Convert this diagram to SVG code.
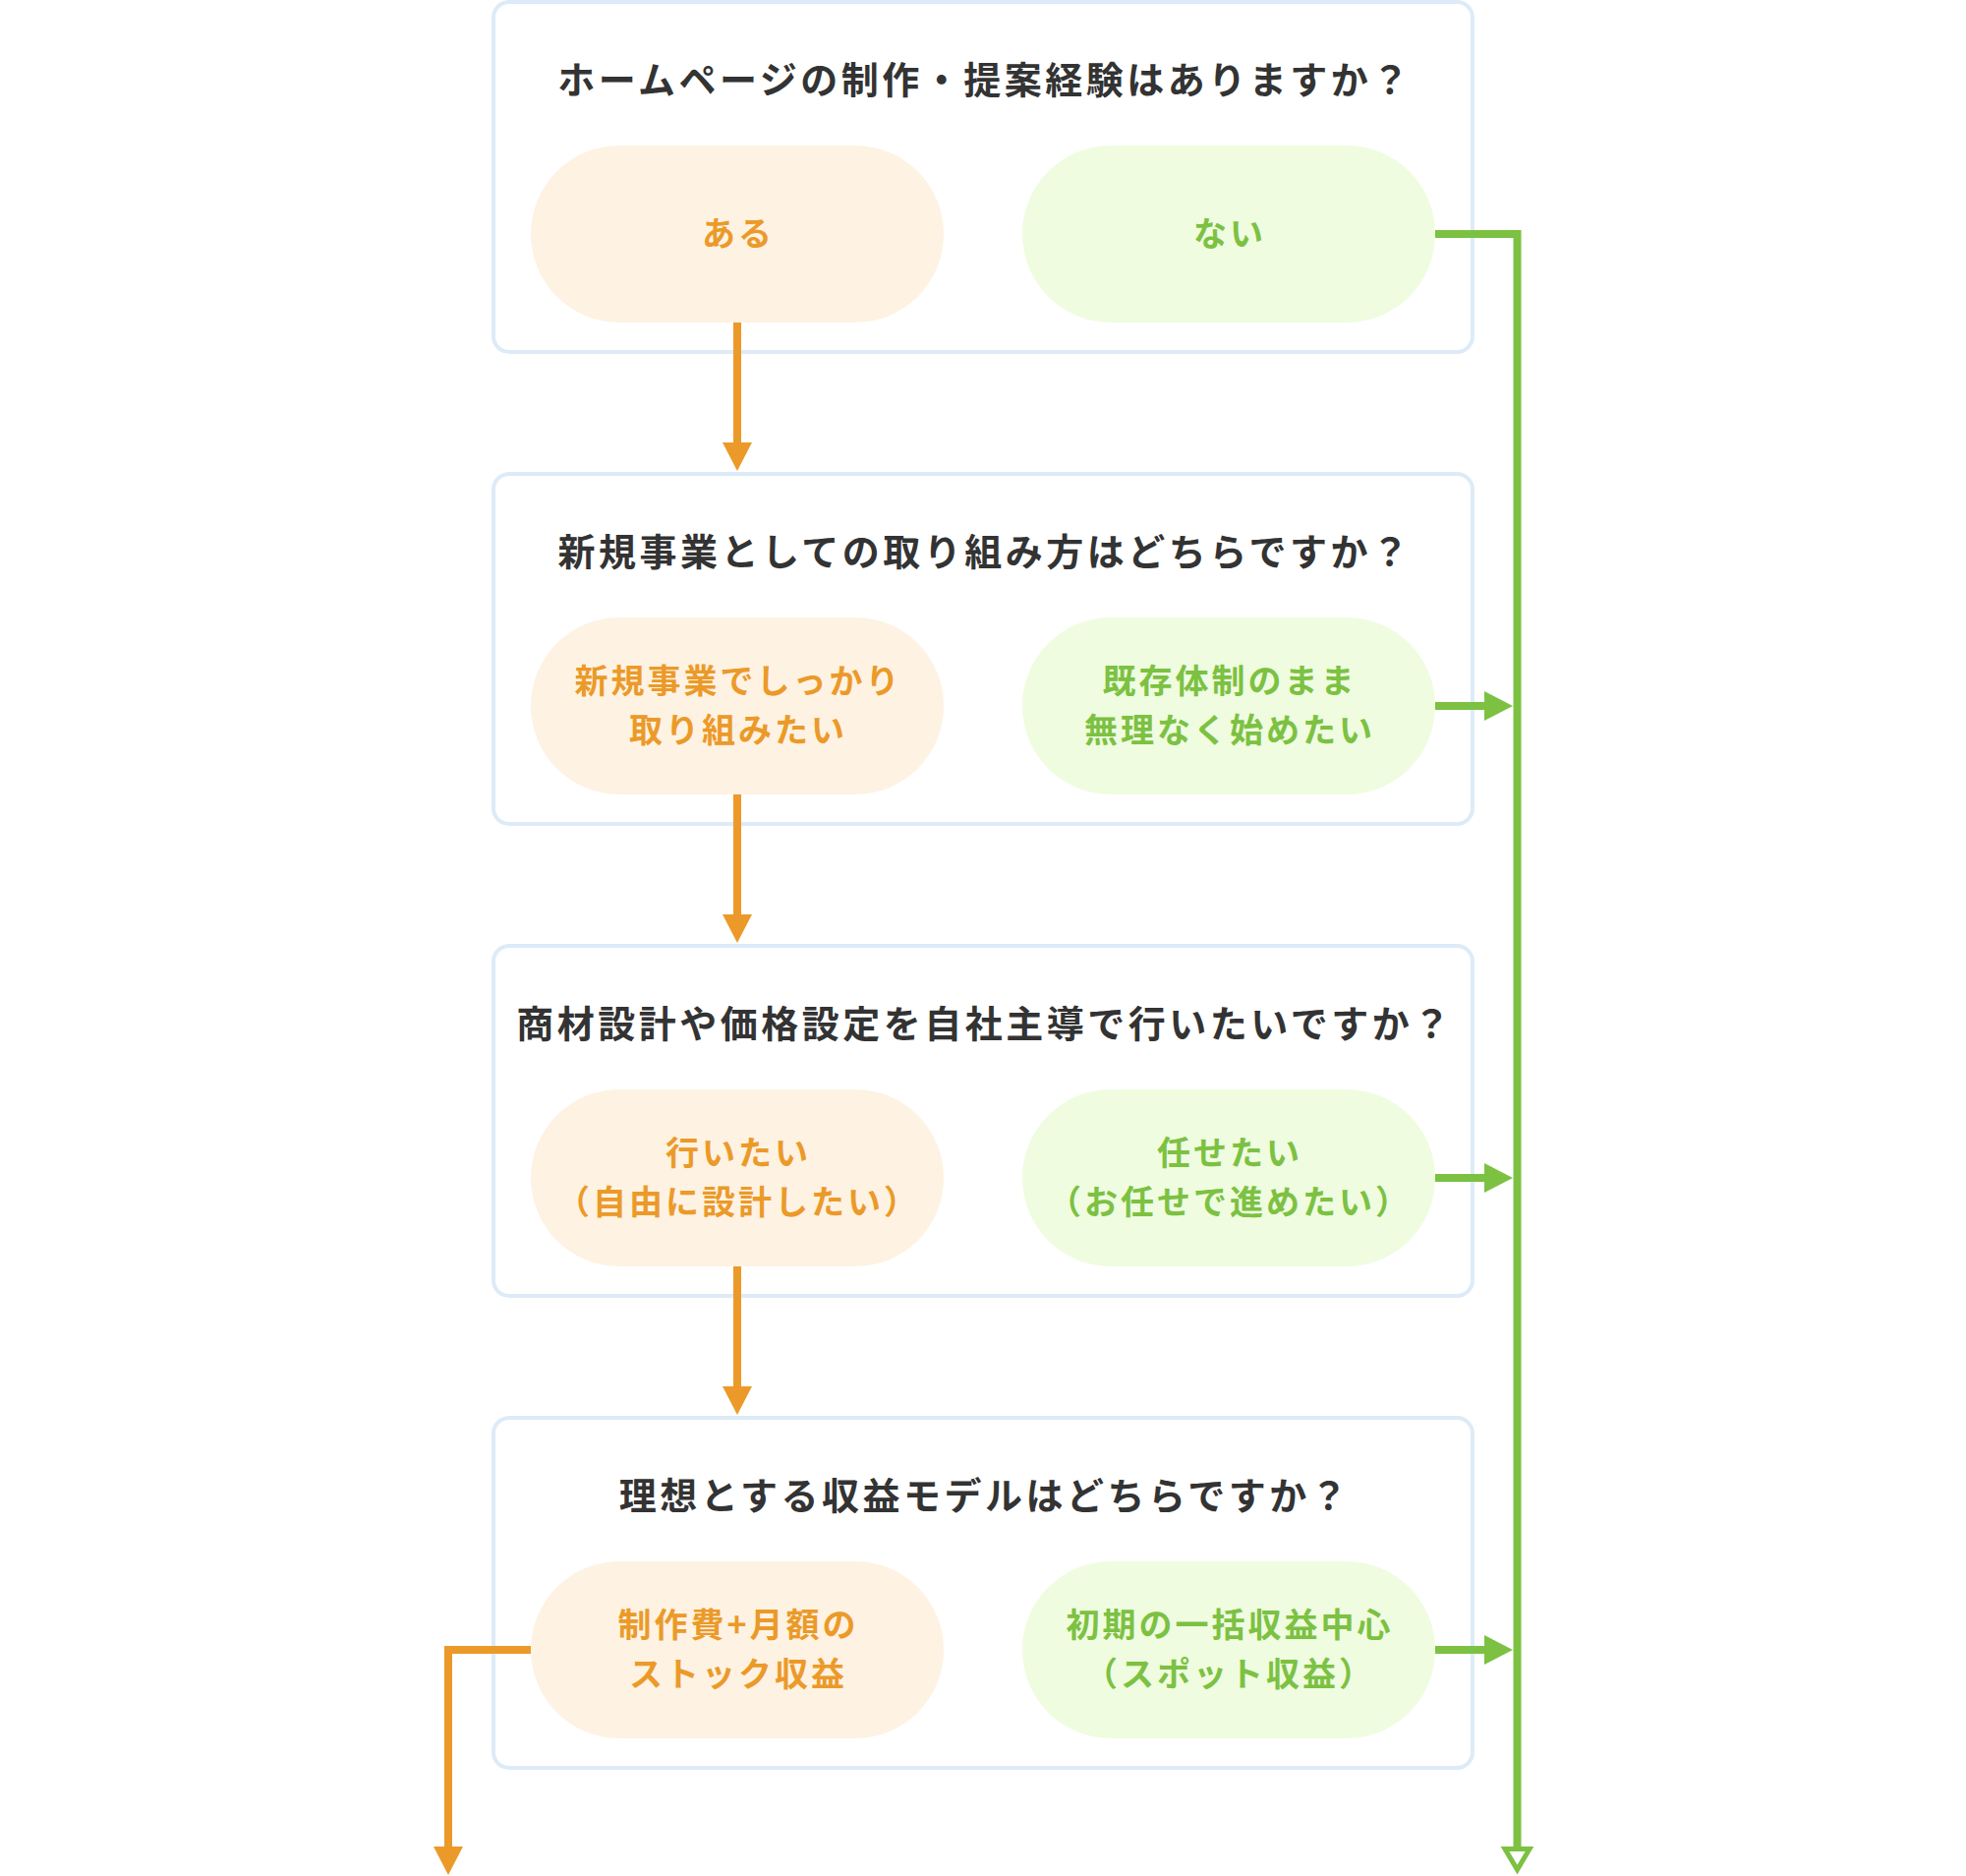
<svg xmlns="http://www.w3.org/2000/svg" width="2000" height="1908" viewBox="0 0 2000 1908">
<style>
.box{fill:#ffffff;stroke:#dcebf7;stroke-width:4}
.po{fill:#fef2e3}
.pg{fill:#effce0}
.q{font-family:"Noto Sans CJK JP","Noto Sans",sans-serif;font-weight:700;font-size:38px;fill:#333333;letter-spacing:3.5px;text-anchor:middle}
.to{font-family:"Noto Sans CJK JP","Noto Sans",sans-serif;font-weight:700;font-size:34px;fill:#eb9a29;letter-spacing:3px;text-anchor:middle}
.tg{font-family:"Noto Sans CJK JP","Noto Sans",sans-serif;font-weight:700;font-size:34px;fill:#7cc142;letter-spacing:3px;text-anchor:middle}
.lo{fill:none;stroke:#eb9a29;stroke-width:8;stroke-linejoin:miter}
.lg{fill:none;stroke:#7cc142;stroke-width:8;stroke-linejoin:miter}
</style>
<defs>
<marker id="ao" markerUnits="userSpaceOnUse" markerWidth="32" markerHeight="32" refX="0" refY="15" orient="auto" overflow="visible">
<path d="M0,0 L29,15 L0,30 Z" fill="#eb9a29"/>
</marker>
<marker id="ag" markerUnits="userSpaceOnUse" markerWidth="32" markerHeight="32" refX="0" refY="15" orient="auto" overflow="visible">
<path d="M0,0 L29,15 L0,30 Z" fill="#7cc142"/>
</marker>
<marker id="agh" markerUnits="userSpaceOnUse" markerWidth="34" markerHeight="34" refX="0" refY="15" orient="auto" overflow="visible">
<path d="M2.5,2.5 L23.5,15 L2.5,27.5 Z" fill="#ffffff" stroke="#7cc142" stroke-width="5"/>
</marker>
</defs>
<rect width="2000" height="1908" fill="#ffffff"/>

<g id="q1">
<rect class="box" x="502" y="2" width="996" height="356" rx="16"/>
<text class="q" x="1002" y="95">ホームページの制作・提案経験はありますか？</text>
</g>
<g id="q1-yes">
<rect class="po" x="540" y="148" width="420" height="180" rx="90"/>
<text class="to" x="751" y="250">ある</text>
</g>
<g id="q1-no">
<rect class="pg" x="1040" y="148" width="420" height="180" rx="90"/>
<text class="tg" x="1251" y="250">ない</text>
</g>

<g id="q2">
<rect class="box" x="502" y="482" width="996" height="356" rx="16"/>
<text class="q" x="1002" y="575">新規事業としての取り組み方はどちらですか？</text>
</g>
<g id="q2-yes">
<rect class="po" x="540" y="628" width="420" height="180" rx="90"/>
<text class="to" x="751" y="705">新規事業でしっかり</text>
<text class="to" x="751" y="755">取り組みたい</text>
</g>
<g id="q2-no">
<rect class="pg" x="1040" y="628" width="420" height="180" rx="90"/>
<text class="tg" x="1251" y="705">既存体制のまま</text>
<text class="tg" x="1251" y="755">無理なく始めたい</text>
</g>

<g id="q3">
<rect class="box" x="502" y="962" width="996" height="356" rx="16"/>
<text class="q" x="1002" y="1055">商材設計や価格設定を自社主導で行いたいですか？</text>
</g>
<g id="q3-yes">
<rect class="po" x="540" y="1108" width="420" height="180" rx="90"/>
<text class="to" x="751" y="1185">行いたい</text>
<text class="to" x="751" y="1235">（自由に設計したい）</text>
</g>
<g id="q3-no">
<rect class="pg" x="1040" y="1108" width="420" height="180" rx="90"/>
<text class="tg" x="1251" y="1185">任せたい</text>
<text class="tg" x="1251" y="1235">（お任せで進めたい）</text>
</g>

<g id="q4">
<rect class="box" x="502" y="1442" width="996" height="356" rx="16"/>
<text class="q" x="1002" y="1535">理想とする収益モデルはどちらですか？</text>
</g>
<g id="q4-yes">
<rect class="po" x="540" y="1588" width="420" height="180" rx="90"/>
<text class="to" x="751" y="1665">制作費+月額の</text>
<text class="to" x="751" y="1715">ストック収益</text>
</g>
<g id="q4-no">
<rect class="pg" x="1040" y="1588" width="420" height="180" rx="90"/>
<text class="tg" x="1251" y="1665">初期の一括収益中心</text>
<text class="tg" x="1251" y="1715">（スポット収益）</text>
</g>

<g id="connectors">
<path class="lo" d="M750,328 V450" marker-end="url(#ao)"/>
<path class="lo" d="M750,808 V930" marker-end="url(#ao)"/>
<path class="lo" d="M750,1288 V1410" marker-end="url(#ao)"/>
<path class="lo" d="M540,1678 H456 V1878" marker-end="url(#ao)"/>
<path class="lg" d="M1460,238 H1543.5 V1878" marker-end="url(#agh)"/>
<path class="lg" d="M1460,718 H1510" marker-end="url(#ag)"/>
<path class="lg" d="M1460,1198 H1510" marker-end="url(#ag)"/>
<path class="lg" d="M1460,1678 H1510" marker-end="url(#ag)"/>
</g>
</svg>
